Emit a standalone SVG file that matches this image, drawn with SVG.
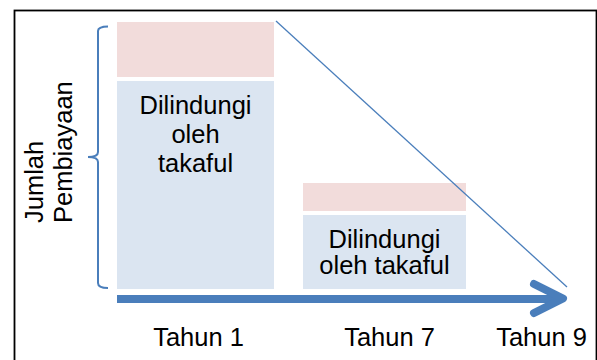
<svg xmlns="http://www.w3.org/2000/svg" width="597" height="360" viewBox="0 0 597 360">
  <style>
    .lbl { font-family: "Liberation Sans", Arial, sans-serif; font-size: 25.5px; fill: #000; }
    .pink { fill: #f2dcdb; }
    .blue { fill: #dbe5f1; }
    .conn { fill: none; stroke: #4a7ebb; }
  </style>
  <rect x="0" y="0" width="597" height="360" fill="#fff"/>
  <rect x="14.5" y="10.5" width="582" height="360" fill="none" stroke="#000" stroke-width="1.8"/>

  <g id="bar-year1">
    <rect class="pink" x="117" y="22" width="157" height="55"/>
    <rect class="blue" x="117" y="81" width="157" height="208"/>
    <text class="lbl" text-anchor="middle" x="195.5" y="114">Dilindungi</text>
    <text class="lbl" text-anchor="middle" x="195.5" y="143">oleh</text>
    <text class="lbl" text-anchor="middle" x="195.5" y="171.5">takaful</text>
  </g>

  <g id="bar-year7">
    <rect class="pink" x="303" y="183" width="163" height="28"/>
    <rect class="blue" x="303" y="215" width="163" height="74"/>
    <text class="lbl" text-anchor="middle" x="384.5" y="247.5">Dilindungi</text>
    <text class="lbl" text-anchor="middle" x="384.5" y="274">oleh takaful</text>
  </g>

  <g id="axis-label">
    <text class="lbl" transform="translate(43 223) rotate(-90)">Jumlah</text>
    <text class="lbl" transform="translate(72 223) rotate(-90)">Pembiayaan</text>
  </g>

  <g id="x-labels">
    <text class="lbl" text-anchor="middle" x="198.5" y="346">Tahun 1</text>
    <text class="lbl" text-anchor="middle" x="389.5" y="346">Tahun 7</text>
    <text class="lbl" text-anchor="middle" x="541.5" y="346">Tahun 9</text>
  </g>

  <g id="connectors">
    <path class="conn" stroke-width="2" d="M108 26.5 Q98 26.5 98 31 L98 152 Q98 157 88 157 Q98 157 98 162 L98 283 Q98 288 108 288"/>
    <line class="conn" stroke-width="1.3" x1="276" y1="21" x2="567" y2="287"/>
    <line class="conn" stroke-width="8" x1="117" y1="299" x2="560" y2="299"/>
    <polyline class="conn" stroke-width="8" stroke-linecap="round" stroke-linejoin="round" points="534,284 563,298.5 534,313"/>
  </g>
</svg>
